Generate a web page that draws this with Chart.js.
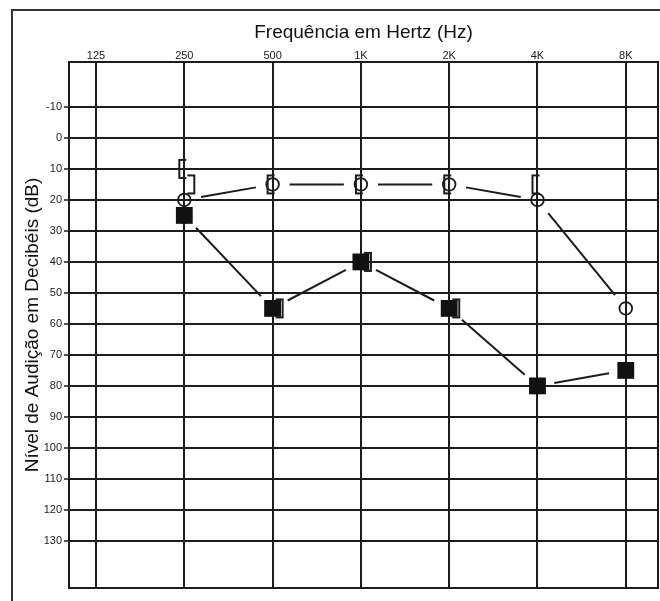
<!DOCTYPE html>
<html>
<head>
<meta charset="utf-8">
<script src="https://cdn.jsdelivr.net/npm/chart.js@4.4.0/dist/chart.umd.min.js"></script>
<style>
  html, body { margin: 0; padding: 0; background: #fff; }
  #wrap { width: 660px; height: 601px; }
</style>
</head>
<body>
<div id="wrap"><canvas id="audio" width="660" height="601"></canvas></div>
<script>
// audiogram values (dB HL), index = frequency column
const freqLabels = ['125', '250', '500', '1K', '2K', '4K', '8K'];
const dbTicks = [-10, 0, 10, 20, 30, 40, 50, 60, 70, 80, 90, 100, 110, 120, 130];
const rightAir = [null, 20, 15, 15, 15, 20, 55];   // O
const leftAir = [null, 25, 55, 40, 55, 80, 75];    // filled square
const rightBone = [null, 10, 15, 15, 15, 15, null]; // [
const leftBone = [null, 15, 55, 40, 55, null, null]; // ]

const ink = '#1c1c1c';

function toPoints(arr) {
  const pts = [];
  arr.forEach((v, i) => { if (v !== null) pts.push({ x: i, y: v }); });
  return pts;
}

function bracket(side) {
  const c = document.createElement('canvas');
  c.width = 40; c.height = 24;
  const g = c.getContext('2d');
  g.strokeStyle = ink;
  g.lineWidth = 2;
  g.beginPath();
  if (side === 'left') {
    g.moveTo(22, 3); g.lineTo(15, 3); g.lineTo(15, 21); g.lineTo(22, 21);
  } else {
    g.moveTo(23, 3); g.lineTo(30, 3); g.lineTo(30, 21); g.lineTo(23, 21);
  }
  g.stroke();
  return c;
}

// connect markers with segments that stop short of each symbol
const gapLines = {
  id: 'gapLines',
  beforeDatasetsDraw(chart) {
    const ctx = chart.ctx;
    chart.data.datasets.forEach((ds, di) => {
      if (!ds.gapLine) return;
      const pts = chart.getDatasetMeta(di).data;
      ctx.save();
      ctx.strokeStyle = ink;
      ctx.lineWidth = 2;
      for (let i = 0; i < pts.length - 1; i++) {
        const a = pts[i], b = pts[i + 1];
        const dx = b.x - a.x, dy = b.y - a.y;
        const len = Math.hypot(dx, dy);
        const g = ds.gapLine;
        ctx.beginPath();
        ctx.moveTo(a.x + dx * g / len, a.y + dy * g / len);
        ctx.lineTo(b.x - dx * g / len, b.y - dy * g / len);
        ctx.stroke();
      }
      ctx.restore();
    });
  }
};

const frames = {
  id: 'frames',
  beforeDraw(chart) {
    const ctx = chart.ctx;
    ctx.save();
    ctx.fillStyle = '#fff';
    ctx.fillRect(0, 0, chart.width, chart.height);
    ctx.strokeStyle = '#333';
    ctx.lineWidth = 2;
    ctx.strokeRect(12, 10, 700, 700);
    ctx.restore();
  },
  afterDraw(chart) {
    const a = chart.chartArea;
    const ctx = chart.ctx;
    ctx.save();
    ctx.strokeStyle = ink;
    ctx.lineWidth = 2;
    ctx.strokeRect(a.left, a.top, a.right - a.left, a.bottom - a.top);
    ctx.restore();
  }
};

new Chart(document.getElementById('audio'), {
  type: 'scatter',
  data: {
    datasets: [
      {
        label: 'Via óssea OD',
        data: toPoints(rightBone),
        pointStyle: bracket('left'),
        pointRadius: 10
      },
      {
        label: 'Via óssea OE',
        data: toPoints(leftBone),
        pointStyle: bracket('right'),
        pointRadius: 10
      },
      {
        label: 'Via aérea OD',
        data: toPoints(rightAir),
        pointStyle: 'circle',
        pointRadius: 6.3,
        borderWidth: 1.8,
        borderColor: ink,
        backgroundColor: 'rgba(0,0,0,0)',
        gapLine: 17
      },
      {
        label: 'Via aérea OE',
        data: toPoints(leftAir),
        pointStyle: 'rect',
        pointRadius: 11.9,
        borderWidth: 0,
        backgroundColor: '#111',
        gapLine: 17
      }
    ]
  },
  options: {
    responsive: false,
    animation: false,
    layout: { autoPadding: false, padding: { left: 0, top: 0, right: 2, bottom: 13 } },
    plugins: {
      legend: { display: false },
      tooltip: { enabled: false }
    },
    scales: {
      x: {
        type: 'linear',
        position: 'top',
        min: -0.306,
        max: 6.365,
        afterBuildTicks: (axis) => { axis.ticks = freqLabels.map((_, i) => ({ value: i })); },
        afterFit: (axis) => { axis.height = 62; },
        ticks: {
          callback: (v) => freqLabels[v],
          color: '#222',
          font: { family: 'Liberation Sans, Arial, sans-serif', size: 11 },
          padding: -1,
          maxRotation: 0
        },
        grid: { color: ink, lineWidth: 2, drawTicks: false },
        border: { color: ink, width: 2 },
        title: {
          display: true,
          text: 'Frequência em Hertz (Hz)',
          color: '#111',
          font: { family: 'Liberation Sans, Arial, sans-serif', size: 19 },
          padding: { top: 21, bottom: 0 }
        }
      },
      y: {
        type: 'linear',
        reverse: true,
        min: -24.5,
        max: 145.2,
        afterBuildTicks: (axis) => { axis.ticks = dbTicks.map(v => ({ value: v })); },
        afterFit: (axis) => { axis.width = 69; },
        ticks: {
          color: '#222',
          font: { family: 'Liberation Sans, Arial, sans-serif', size: 11 },
          padding: 2
        },
        grid: { color: ink, lineWidth: 2, tickLength: 5, tickWidth: 1.5 },
        border: { color: ink, width: 2 },
        title: {
          display: true,
          text: 'Nível de Audição em Decibéis (dB)',
          color: '#111',
          font: { family: 'Liberation Sans, Arial, sans-serif', size: 19 },
          padding: { top: 21, bottom: 0 }
        }
      }
    }
  },
  plugins: [gapLines, frames]
});
</script>
</body>
</html>
